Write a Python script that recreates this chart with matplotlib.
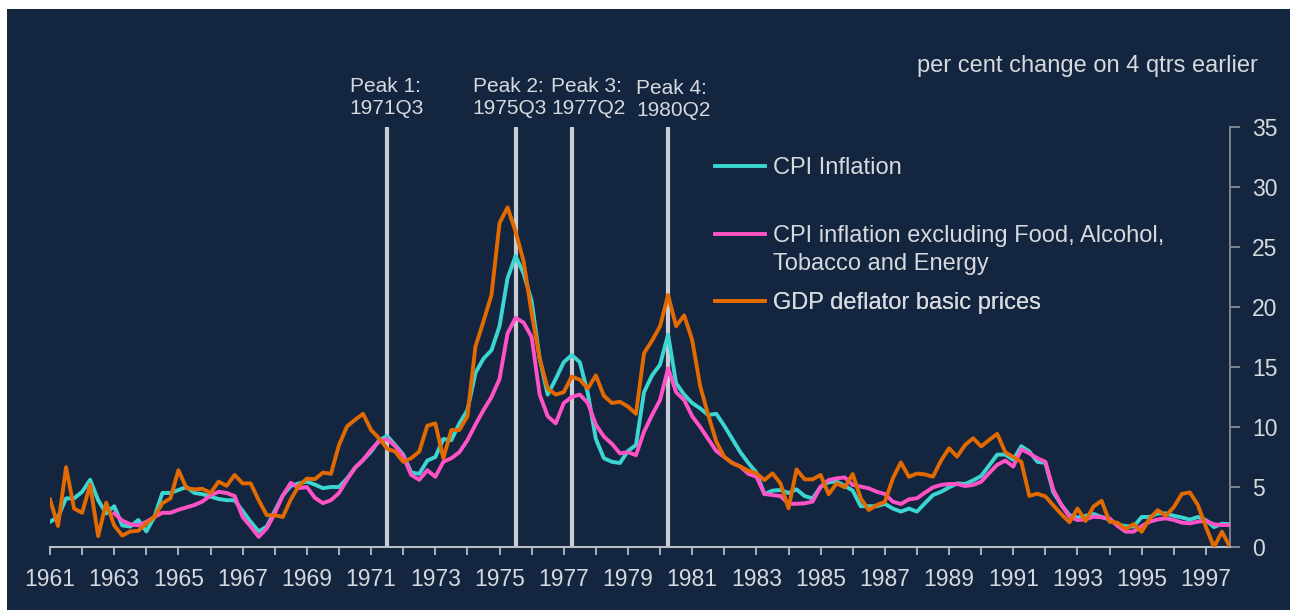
#!/usr/bin/env python3
"""
UK inflation measures 1961-1997, per cent change on 4 quarters earlier,
with the four inflation peaks of the 1970s marked.
"""

import numpy as np
import matplotlib
matplotlib.use("Agg")
import matplotlib.pyplot as plt
from matplotlib.patches import Rectangle
from matplotlib.lines import Line2D

# ── Data (quarterly, 1961Q1 .. 1997Q4) ────────────────────────────────────────

FIRST_YEAR = 1961
LAST_YEAR = 1997

cpi = [
    2.1, 2.5, 4.05, 4.05, 4.6, 5.6, 3.9, 2.8,          # 1961-62
    3.4, 1.8, 1.7, 2.25, 1.3, 2.5, 4.5, 4.5,           # 1963-64
    4.75, 5.0, 4.5, 4.4, 4.2, 4.0, 3.9, 3.9,           # 1965-66
    3.0, 2.1, 1.3, 1.7, 3.0, 4.3, 5.1, 5.3,            # 1967-68
    5.45, 5.2, 4.9, 5.0, 5.0, 5.7, 6.6, 7.25,          # 1969-70
    7.95, 8.9, 9.25, 8.5, 7.7, 6.2, 6.1, 7.2,          # 1971-72
    7.5, 9.0, 8.9, 10.3, 11.4, 14.5, 15.7, 16.4,       # 1973-74
    18.4, 22.4, 24.25, 22.8, 20.5, 15.7, 12.7, 14.0,   # 1975-76
    15.4, 16.0, 15.4, 12.8, 9.0, 7.4, 7.1, 7.0,        # 1977-78
    8.0, 8.5, 12.9, 14.3, 15.2, 17.7, 13.65, 12.7,     # 1979-80
    12.0, 11.55, 11.0, 11.1, 10.1, 9.0, 7.9, 7.0,      # 1981-82
    6.2, 4.4, 4.7, 4.75, 4.5, 4.8, 4.25, 4.05,         # 1983-84
    5.0, 5.4, 5.45, 5.1, 4.7, 3.4, 3.4, 3.4,           # 1985-86
    3.6, 3.2, 2.95, 3.2, 2.95, 3.65, 4.33, 4.6,        # 1987-88
    4.97, 5.3, 5.25, 5.55, 5.92, 6.8, 7.7, 7.7,        # 1989-90
    7.26, 8.4, 7.96, 7.1, 7.0, 4.55, 3.5, 2.65,        # 1991-92
    2.45, 2.6, 2.75, 2.5, 2.28, 1.87, 1.74, 1.7,       # 1993-94
    2.5, 2.5, 2.8, 2.8, 2.6, 2.46, 2.28, 2.5,          # 1995-96
    2.24, 1.66, 1.94, 1.9,                             # 1997
]

# core series starts in 1963Q1
cpi_core = [np.nan] * 8 + [
    2.8, 2.2, 1.9, 1.8, 2.1, 2.5, 2.85, 2.85,          # 1963-64
    3.1, 3.3, 3.5, 3.8, 4.3, 4.6, 4.5, 4.25,           # 1965-66
    2.5, 1.7, 0.85, 1.55, 2.8, 4.3, 5.35, 4.9,         # 1967-68
    5.0, 4.1, 3.65, 3.9, 4.5, 5.6, 6.6, 7.25,          # 1969-70
    8.1, 8.8, 9.0, 8.4, 7.55, 6.0, 5.6, 6.4,           # 1971-72
    5.85, 7.1, 7.4, 7.9, 8.9, 10.2, 11.4, 12.5,        # 1973-74
    14.0, 17.8, 19.1, 18.7, 17.5, 12.7, 10.9, 10.3,    # 1975-76
    12.0, 12.5, 12.7, 12.0, 10.2, 9.2, 8.6, 7.8,       # 1977-78
    7.9, 7.65, 9.6, 11.0, 12.25, 14.9, 12.9, 12.25,    # 1979-80
    10.9, 10.0, 9.0, 8.0, 7.5, 7.0, 6.7, 6.1,          # 1981-82
    5.86, 4.42, 4.33, 4.25, 3.6, 3.6, 3.64, 3.78,      # 1983-84
    5.03, 5.58, 5.72, 5.8, 5.17, 5.03, 4.89, 4.6,      # 1985-86
    4.42, 3.78, 3.58, 3.97, 4.06, 4.53, 4.97, 5.17,    # 1987-88
    5.25, 5.25, 5.08, 5.17, 5.44, 6.17, 6.85, 7.2,     # 1989-90
    6.7, 8.14, 7.8, 7.4, 7.1, 4.75, 3.5, 2.53,         # 1991-92
    2.25, 2.3, 2.53, 2.47, 2.39, 1.75, 1.28, 1.28,     # 1993-94
    1.75, 2.11, 2.3, 2.39, 2.25, 2.03, 1.97, 2.11,     # 1995-96
    2.19, 1.89, 1.83, 1.83,                            # 1997
]

gdp_deflator = [
    3.97, 1.75, 6.65, 3.2, 2.85, 5.2, 0.9, 3.7,        # 1961-62
    1.8, 0.95, 1.3, 1.35, 1.97, 2.5, 3.65, 4.05,       # 1963-64
    6.4, 4.9, 4.8, 4.85, 4.5, 5.45, 5.1, 6.0,          # 1965-66
    5.3, 5.3, 3.9, 2.65, 2.65, 2.5, 3.97, 5.1,         # 1967-68
    5.7, 5.65, 6.2, 6.1, 8.5, 10.05, 10.6, 11.1,       # 1969-70
    9.75, 9.05, 8.2, 7.95, 7.1, 7.4, 7.95, 10.1,       # 1971-72
    10.3, 7.4, 9.75, 9.75, 10.9, 16.7, 18.8, 21.0,     # 1973-74
    27.0, 28.3, 26.3, 23.8, 19.5, 15.7, 13.2, 12.7,    # 1975-76
    12.9, 14.2, 13.95, 13.2, 14.3, 12.6, 12.0, 12.1,   # 1977-78
    11.7, 11.1, 16.15, 17.2, 18.4, 21.0, 18.4, 19.3,   # 1979-80
    17.25, 13.4, 11.0, 8.8, 7.5, 7.0, 6.7, 6.36,       # 1981-82
    6.14, 5.58, 6.14, 5.3, 3.22, 6.47, 5.64, 5.64,     # 1983-84
    6.0, 4.4, 5.3, 4.97, 6.08, 4.05, 3.08, 3.5,        # 1985-86
    3.75, 5.72, 7.05, 5.85, 6.12, 6.05, 5.86, 7.2,     # 1987-88
    8.23, 7.53, 8.5, 9.06, 8.38, 8.92, 9.43, 7.9,      # 1989-90
    7.5, 7.1, 4.26, 4.44, 4.22, 3.46, 2.73, 2.06,      # 1991-92
    3.21, 2.17, 3.38, 3.85, 2.1, 2.02, 1.48, 1.91,     # 1993-94
    1.27, 2.38, 3.07, 2.6, 3.32, 4.43, 4.55, 3.5,      # 1995-96
    1.68, 0.0, 1.27, 0.0,                              # 1997
]

peak_labels = ["Peak 1:\n1971Q3", "Peak 2:\n1975Q3", "Peak 3:\n1977Q2", "Peak 4:\n1980Q2"]
peak_quarters = [(1971, 3), (1975, 3), (1977, 2), (1980, 2)]

series_labels = ["CPI Inflation",
                 "CPI inflation excluding Food, Alcohol,",
                 "GDP deflator basic prices"]
label_second_line = "Tobacco and Energy"

# ── Style ─────────────────────────────────────────────────────────────────────

BG = "#14253F"
TXT = "#D6D9DE"
C_CPI = "#3CD6D2"
C_CORE = "#FF52C6"
C_GDP = "#E26A00"
C_PEAK = "#C9CDD4"
FONT = "Liberation Sans"
LW = 2.8

W, H = 1290, 610

plt.rcParams["font.family"] = [FONT, "DejaVu Sans"]

# ── Plot ──────────────────────────────────────────────────────────────────────

n_q = len(cpi)
x = np.arange(n_q)

fig = plt.figure(figsize=(W / 100, H / 100), dpi=100)
fig.patch.set_facecolor("white")
fig.add_artist(Rectangle((7 / W, 0), 1, 1 - 9 / H, transform=fig.transFigure,
                         facecolor=BG, edgecolor="none", zorder=0))

ax = fig.add_axes([50 / W, 1 - 547 / H, 1180 / W, 420 / H])
ax.set_facecolor("none")

# peak markers
for lab, (yr, q) in zip(peak_labels, peak_quarters):
    idx = (yr - FIRST_YEAR) * 4 + (q - 1)
    ax.axvline(idx, color=C_PEAK, linewidth=3, zorder=1)

peak_text_dx = [-27, -31, -15, -23]   # points, left edge relative to the line
peak_text_dy = [6.5, 6.5, 6.5, 5]
for lab, (yr, q), dx, dy in zip(peak_labels, peak_quarters, peak_text_dx, peak_text_dy):
    idx = (yr - FIRST_YEAR) * 4 + (q - 1)
    ax.annotate(lab, xy=(idx, 35), xytext=(dx, dy), textcoords="offset points",
                ha="left", va="bottom", fontsize=15, color=TXT,
                linespacing=1.2, annotation_clip=False)

l_cpi, = ax.plot(x, cpi, color=C_CPI, linewidth=LW, zorder=3)
l_core, = ax.plot(x, cpi_core, color=C_CORE, linewidth=LW, zorder=4)
l_gdp, = ax.plot(x, gdp_deflator, color=C_GDP, linewidth=LW, zorder=5)

ax.set_xlim(0, n_q - 1)
ax.set_ylim(0, 35)

# x axis: tick every year, label every other year
ax.set_xticks(np.arange(0, n_q, 8))
ax.set_xticklabels([str(y) for y in range(FIRST_YEAR, LAST_YEAR + 1, 2)])
ax.set_xticks(np.arange(4, n_q, 8), minor=True)
ax.tick_params(axis="x", which="both", direction="out", length=6, width=1.3,
               color="#B8BDC5", labelcolor=TXT, labelsize=16.5, pad=9)

# y axis on the right
ax.yaxis.tick_right()
ax.set_yticks(np.arange(0, 36, 5))
ax.tick_params(axis="y", direction="out", length=7, width=1.3,
               color="#868C96", labelcolor=TXT, labelsize=16.5, pad=9)

for side in ("top", "left"):
    ax.spines[side].set_visible(False)
ax.spines["bottom"].set_color("#B8BDC5")
ax.spines["bottom"].set_linewidth(1.5)
ax.spines["right"].set_color("#868C96")
ax.spines["right"].set_linewidth(1.3)

# legend, one entry at a time so the rows sit where the original has them
fs = 17
fs_px = fs * 100 / 72
legend_rows = [168, 236, 303]
for line, lab, row in zip([l_cpi, l_core, l_gdp], series_labels, legend_rows):
    h = Line2D([], [], color=line.get_color(), linewidth=LW)
    leg = ax.legend([h], [lab], loc="center left",
                    bbox_to_anchor=(715 / W, 1 - row / H),
                    bbox_transform=fig.transFigure, frameon=False,
                    fontsize=fs, labelcolor=TXT, borderpad=0, borderaxespad=0,
                    handlelength=50 / fs_px, handletextpad=8 / fs_px)
    ax.add_artist(leg)
fig.text(773 / W, 1 - 264 / H, label_second_line, ha="left", va="center",
         fontsize=fs, color=TXT)

fig.text(1258 / W, 1 - 72 / H, "per cent change on 4 qtrs earlier",
         ha="right", va="baseline", fontsize=fs, color=TXT)

fig.savefig("out.png", dpi=100)
